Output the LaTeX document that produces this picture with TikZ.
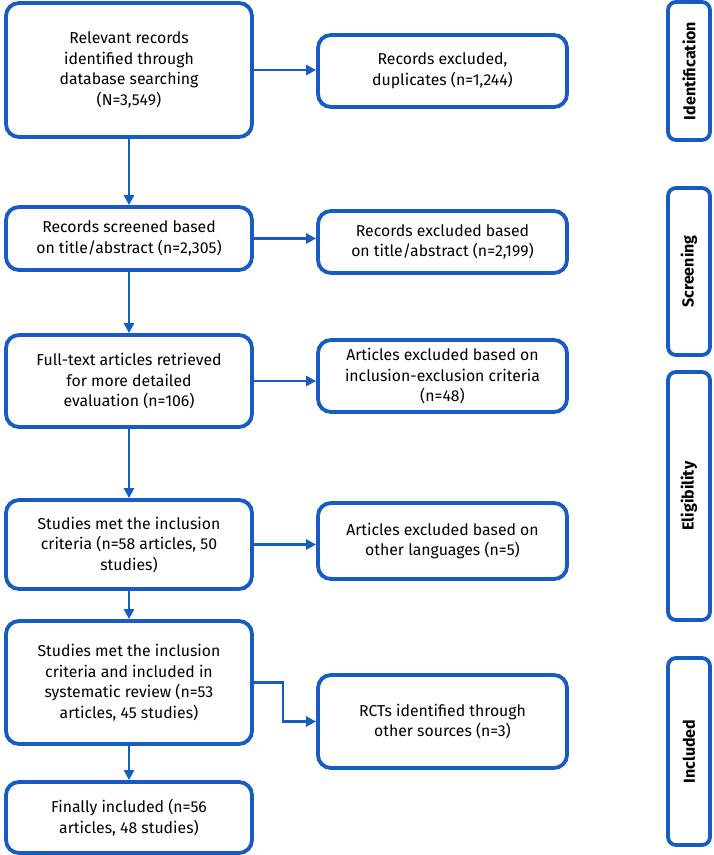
\documentclass[tikz,border=0pt]{standalone}
\usepackage{fontspec}
\setmainfont{Fira Sans}
\usetikzlibrary{arrows.meta}
\definecolor{pblue}{RGB}{22,92,196}
\tikzset{
  box/.style={draw=pblue, line width=3.8pt, rounded corners=13pt, fill=white,
    align=center, inner sep=0pt, font=\fontsize{15.8}{20.5}\selectfont, text=black},
  sidebox/.style={draw=pblue, line width=3.8pt, rounded corners=8pt, inner sep=0pt,
    minimum width=42pt},
  sidelabel/.style={font=\bfseries\fontsize{16}{18}\selectfont, rotate=90, text=black},
  arr/.style={draw=pblue, line width=2.5pt, -{Triangle[length=10pt,width=10pt]}},
}
\begin{document}
\begin{tikzpicture}[x=1pt, y=-1pt]
\useasboundingbox (0,0) rectangle (714,855);
% left column
\node[box, minimum width=246pt, minimum height=134pt] (b1) at (129,70)
  {Relevant records\\identified through\\database searching\\(N=3,549)};
\node[box, minimum width=246pt, minimum height=63pt] (b2) at (129,238.5)
  {Records screened based\\on title/abstract (n=2,305)};
\node[box, minimum width=246pt, minimum height=92pt] (b3) at (129,381)
  {Full-text articles retrieved\\for more detailed\\evaluation (n=106)};
\node[box, minimum width=246pt, minimum height=89pt] (b4) at (129,544.5)
  {Studies met the inclusion\\criteria (n=58 articles, 50\\studies)};
\node[box, minimum width=246pt, minimum height=123pt] (b5) at (129,682.5)
  {Studies met the inclusion\\criteria and included in\\systematic review (n=53\\articles, 45 studies)};
\node[box, minimum width=246pt, minimum height=71pt] (b6) at (129,817.5)
  {Finally included (n=56\\articles, 48 studies)};
% right column
\node[box, minimum width=249pt, minimum height=72pt] (r1) at (442.5,71)
  {Records excluded,\\duplicates (n=1,244)};
\node[box, minimum width=249pt, minimum height=62pt] (r2) at (442.5,242)
  {Records excluded based\\on title/abstract (n=2,199)};
\node[box, minimum width=249pt, minimum height=72pt] (r3) at (442.5,376)
  {Articles excluded based on\\inclusion-exclusion criteria\\(n=48)};
\node[box, minimum width=249pt, minimum height=76pt] (r4) at (442.5,541)
  {Articles excluded based on\\other languages (n=5)};
\node[box, minimum width=249pt, minimum height=93pt] (r5) at (442.5,721.5)
  {RCTs identified through\\other sources (n=3)};
% side stage boxes
\node[sidebox, minimum height=138pt] (s1) at (689,71) {};
\node[sidelabel] (l1) at (s1.center) {Identification};
\node[sidebox, minimum height=167pt] (s2) at (689,271.5) {};
\node[sidelabel] (l2) at (s2.center) {Screening};
\node[sidebox, minimum height=248pt] (s3) at (689,496) {};
\node[sidelabel] (l3) at (s3.center) {Eligibility};
\node[sidebox, minimum height=187pt] (s4) at (689,751.5) {};
\node[sidelabel] (l4) at (s4.center) {Included};
% vertical arrows
\draw[arr] (b1.south) -- (b2.north);
\draw[arr] (b2.south) -- (b3.north);
\draw[arr] (b3.south) -- (b4.north);
\draw[arr] (b4.south) -- (b5.north);
\draw[arr] (b5.south) -- (b6.north);
% horizontal arrows
\draw[arr] (b1.east) -- (b1.east -| r1.west);
\draw[arr] (b2.east) -- (b2.east -| r2.west);
\draw[arr] (b3.east) -- (b3.east -| r3.west);
\draw[arr] (b4.east) -- (b4.east -| r4.west);
\coordinate (elb) at (283,682.5);
\draw[arr] (b5.east) -- (elb) |- (r5.west);
\end{tikzpicture}
\end{document}
